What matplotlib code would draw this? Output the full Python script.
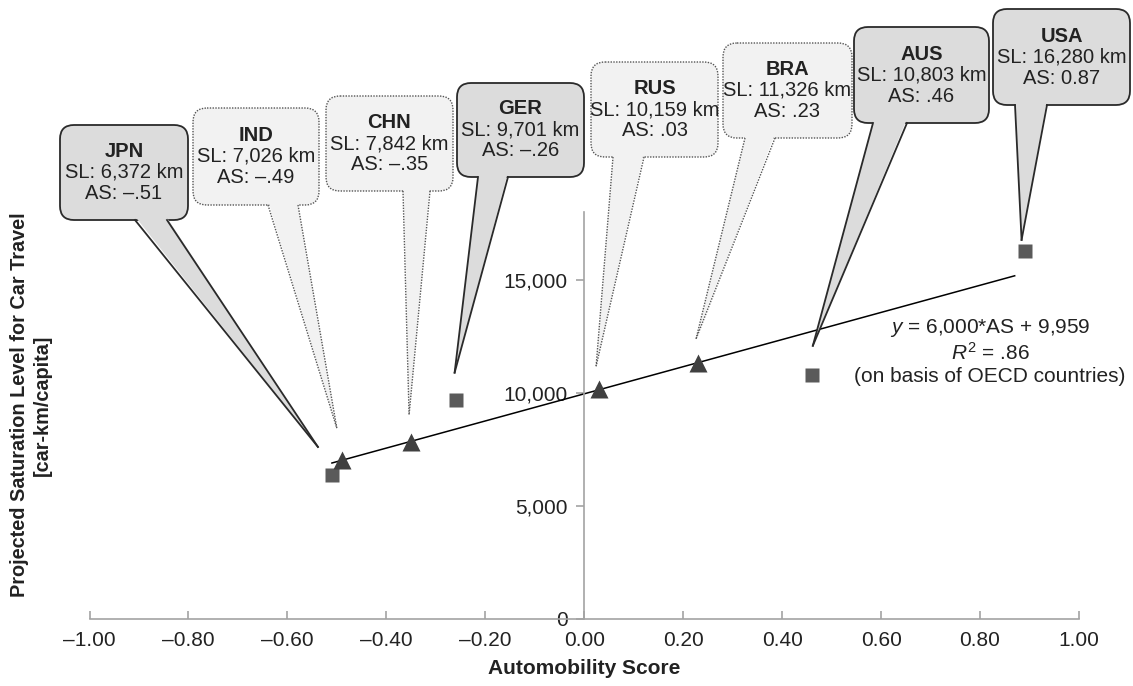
import matplotlib
matplotlib.use("Agg")
import matplotlib.pyplot as plt
import numpy as np
from matplotlib.patches import FancyBboxPatch, Polygon
from matplotlib.lines import Line2D
from matplotlib.transforms import Affine2D
from matplotlib.ticker import FuncFormatter

plt.rcParams['font.family'] = ['Liberation Sans', 'DejaVu Sans']
plt.rcParams['mathtext.fontset'] = 'custom'
plt.rcParams['mathtext.rm'] = 'Liberation Sans'
plt.rcParams['mathtext.it'] = 'Liberation Sans:italic'

# ---- data
countries = ['JPN', 'IND', 'CHN', 'GER', 'RUS', 'BRA', 'AUS', 'USA']
sat_level = [6372, 7026, 7842, 9701, 10159, 11326, 10803, 16280]
as_labels = ['\u2013.51', '\u2013.49', '\u2013.35', '\u2013.26', '.03', '.23', '.46', '0.87']
auto_score = [-0.51, -0.49, -0.35, -0.26, 0.03, 0.23, 0.46, 0.89]   # marker positions
is_oecd = [True, False, False, True, False, False, True, True]

fit_slope = 6000
fit_intercept = 9959
fit_range = [-0.51, 0.87]

x_ticks = [-1.0, -0.8, -0.6, -0.4, -0.2, 0.0, 0.2, 0.4, 0.6, 0.8, 1.0]
y_ticks = [0, 5000, 10000, 15000]

# ---- callout layout, in image pixels (y down)
W, H = 1133, 686
box_px = {'JPN': (60, 125, 188, 220), 'IND': (193, 108, 319, 205),
          'CHN': (326, 96, 453, 191), 'GER': (457, 83, 584, 177),
          'RUS': (591, 62, 718, 157), 'BRA': (723, 43, 852, 138),
          'AUS': (854, 27, 989, 123), 'USA': (993, 9, 1130, 105)}
tail_base = {'JPN': (135, 167), 'IND': (268, 298), 'CHN': (403, 430),
             'GER': (478, 508), 'RUS': (613, 644), 'BRA': (745, 775),
             'AUS': (873, 907), 'USA': (1015, 1047)}
tip_offset = {'JPN': (-14, -28), 'IND': (-5, -32), 'CHN': (-2, -27),
              'GER': (-1, -27), 'RUS': (-3, -23), 'BRA': (-2, -24),
              'AUS': (1, -29), 'USA': (-3, -11)}

fig = plt.figure(figsize=(W / 100, H / 100), dpi=100)
ax = fig.add_axes([89.5 / W, 1 - 619 / H, 989.5 / W, 407 / H])
pix = Affine2D().scale(1, -1).translate(0, H)   # image pixels -> display

axis_grey = '#a3a3a3'
ax.set_xlim(-1, 1)
ax.set_ylim(0, 18000)
for s in ['top', 'right']:
    ax.spines[s].set_visible(False)
ax.spines['left'].set_position(('data', 0))
for s in ['left', 'bottom']:
    ax.spines[s].set_color(axis_grey)
    ax.spines[s].set_linewidth(1.2)

ax.set_xticks(x_ticks)
ax.set_yticks(y_ticks)
ax.xaxis.set_major_formatter(FuncFormatter(lambda v, p: f"{v:.2f}".replace('-', '\u2013')))
ax.yaxis.set_major_formatter(FuncFormatter(lambda v, p: f"{int(v):,}"))
ax.tick_params(axis='x', direction='in', length=6, color=axis_grey, width=1.2,
               pad=9, labelsize=15, labelcolor='#222222')
ax.tick_params(axis='y', direction='out', length=6, color=axis_grey, width=1.2,
               pad=6, labelsize=15, labelcolor='#222222')

# trend line
fx = np.array(fit_range)
ax.plot(fx, fit_slope * fx + fit_intercept, color='black', lw=1.1, zorder=2)

# markers
sq_x = [a for a, o in zip(auto_score, is_oecd) if o]
sq_y = [s for s, o in zip(sat_level, is_oecd) if o]
tr_x = [a for a, o in zip(auto_score, is_oecd) if not o]
tr_y = [s for s, o in zip(sat_level, is_oecd) if not o]
ax.plot(sq_x, sq_y, 's', ms=9.5, color='#5a5a5a', mec='none', zorder=3)
ax.plot(tr_x, tr_y, '^', ms=13, color='#404040', mec='none', zorder=3)

ax.set_xlabel('Automobility Score', fontsize=15, fontweight='bold', color='#222222', labelpad=6)
fig.text(31, 405, 'Projected Saturation Level for Car Travel\n[car-km/capita]',
         transform=pix, rotation=90, ha='center', va='center', ma='center',
         fontsize=14.3, fontweight='bold', color='#222222')

# regression annotation
eq_lines = ['$y$ = 6,000*AS + 9,959', '$R^2$ = .86', '(on basis of OECD countries)']
for i, line in enumerate(eq_lines):
    fig.text(990, 328 + 24.5 * i, line, transform=pix, ha='center', va='center',
             fontsize=15, color='#222222')

# callouts
for name, sl, lab, a, o in zip(countries, sat_level, as_labels, auto_score, is_oecd):
    l, t, r, b = box_px[name]
    if o:
        face, edge, ls, lw = '#dcdcdc', '#2a2a2a', '-', 1.3
    else:
        face, edge, ls, lw = '#f2f2f2', '#555555', (0, (1, 1)), 1.0
    xd, yd = ax.transData.transform((a, sl))
    tx, ty = xd + tip_offset[name][0], (H - yd) + tip_offset[name][1]
    b1, b2 = tail_base[name]

    box = FancyBboxPatch((l, t), r - l, b - t, boxstyle='round,pad=0,rounding_size=14',
                         transform=pix, facecolor=face, edgecolor=edge, linestyle=ls,
                         linewidth=lw, zorder=5)
    fig.add_artist(box)
    tail = Polygon([(b1 + 0.5, b - 3), (b2 - 0.5, b - 3), (tx, ty)], closed=True,
                   transform=pix, facecolor=face, edgecolor='none', zorder=6)
    fig.add_artist(tail)
    for bx in (b1, b2):
        fig.add_artist(Line2D([bx, tx], [b, ty], transform=pix, color=edge,
                              linestyle=ls, linewidth=lw, zorder=7))
    cx, cy = (l + r) / 2, (t + b) / 2
    fig.text(cx, cy - 21, name, transform=pix, ha='center', va='center',
             fontsize=14.5, fontweight='bold', color='#222222', zorder=8)
    fig.text(cx, cy, f"SL: {sl:,} km", transform=pix, ha='center', va='center',
             fontsize=14.5, color='#222222', zorder=8)
    fig.text(cx, cy + 21, f"AS: {lab}", transform=pix, ha='center', va='center',
             fontsize=14.5, color='#222222', zorder=8)

fig.savefig('out.png', dpi=100)
